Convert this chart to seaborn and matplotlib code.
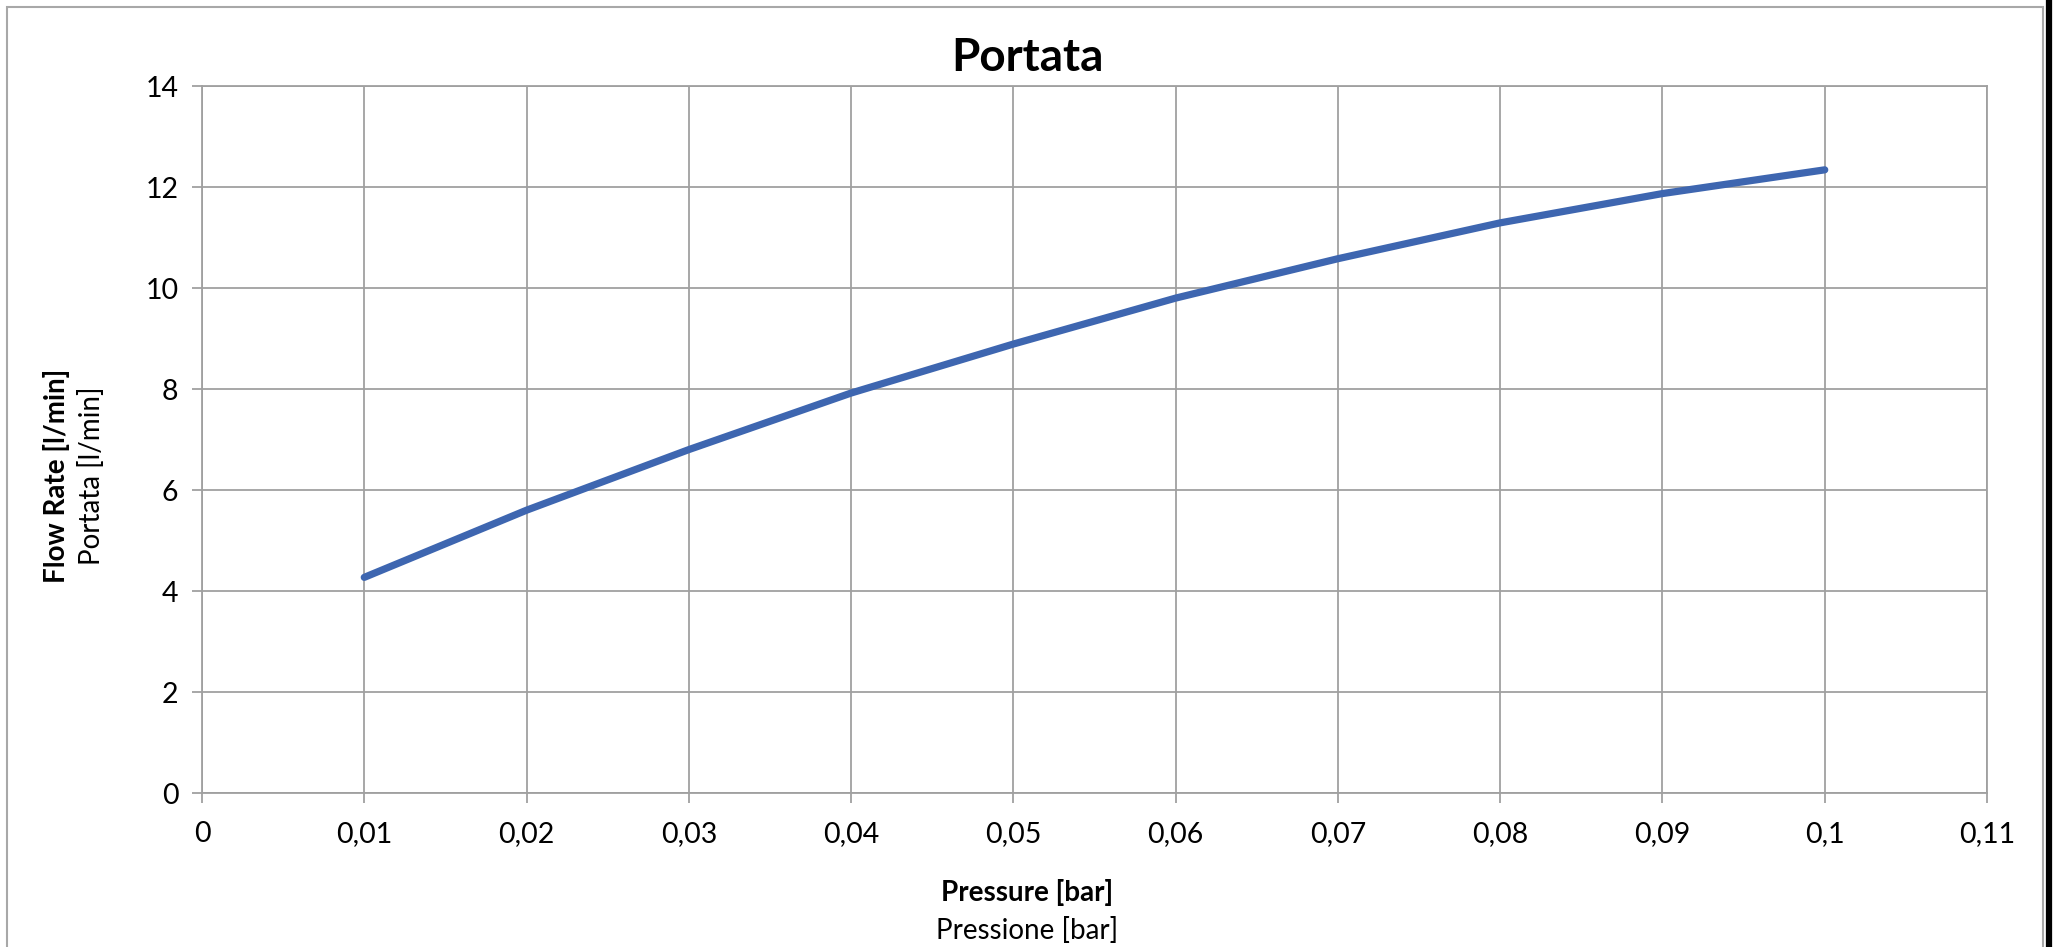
import matplotlib
matplotlib.use("Agg")
import pandas as pd
import seaborn as sns
import matplotlib.pyplot as plt
from matplotlib.ticker import FixedLocator, FuncFormatter
from matplotlib.patches import Rectangle
from matplotlib.lines import Line2D

# data
pressure = [0.01, 0.02, 0.03, 0.04, 0.05, 0.06, 0.07, 0.08, 0.09, 0.10]
flow_rate = [4.27, 5.60, 6.80, 7.92, 8.89, 9.80, 10.58, 11.29, 11.87, 12.34]
x_ticks = [0, 0.01, 0.02, 0.03, 0.04, 0.05, 0.06, 0.07, 0.08, 0.09, 0.10, 0.11]
y_ticks = [0, 2, 4, 6, 8, 10, 12, 14]

title = "Portata"
x_label_en = "Pressure [bar]"
x_label_it = "Pressione [bar]"
y_label_en = "Flow Rate [l/min]"
y_label_it = "Portata [l/min]"

sns.set_style("white")
plt.rcParams["font.family"] = ["Lato", "DejaVu Sans"]
plt.rcParams["text.color"] = "black"

df = pd.DataFrame({"pressure": pressure, "flow": flow_rate})

W, H = 2054, 947
fig = plt.figure(figsize=(W / 100, H / 100), dpi=100)
ax = fig.add_axes([202 / W, 1 - 793 / H, (1987 - 202) / W, (793 - 86) / H])

grid_col = "#a0a0a0"
line_col = "#3e66b0"

sns.lineplot(data=df, x="pressure", y="flow", ax=ax, color=line_col,
             linewidth=5.2, solid_capstyle="round", solid_joinstyle="round", zorder=3)

ax.set_xlim(x_ticks[0], x_ticks[-1])
ax.set_ylim(y_ticks[0], y_ticks[-1])
ax.xaxis.set_major_locator(FixedLocator(x_ticks))
ax.yaxis.set_major_locator(FixedLocator(y_ticks))
ax.xaxis.set_major_formatter(FuncFormatter(lambda v, p: f"{round(v, 4):g}".replace(".", ",")))
ax.yaxis.set_major_formatter(FuncFormatter(lambda v, p: f"{v:g}"))

ax.grid(True, color=grid_col, linewidth=1.3)
for s in ax.spines.values():
    s.set_color(grid_col)
    s.set_linewidth(1.3)
ax.tick_params(axis="both", which="major", length=7, width=1.3, color=grid_col,
               labelsize=20.5, labelcolor="black", direction="out")
ax.tick_params(axis="x", pad=13, bottom=True)
ax.tick_params(axis="y", pad=10, left=True)
ax.set_xlabel("")
ax.set_ylabel("")

# title and two-line axis labels
fig.text(0.5, 1 - 58 / H, title, ha="center", va="center", fontsize=33,
         fontweight="bold", color="black")
fig.text(0.5, 1 - 892 / H, x_label_en, ha="center", va="center", fontsize=20,
         fontweight="bold", color="black")
fig.text(0.5, 1 - 930 / H, x_label_it, ha="center", va="center", fontsize=20, color="black")
fig.text(56 / W, 1 - 476 / H, y_label_en, ha="center", va="center", rotation=90,
         fontsize=20, fontweight="bold", color="black")
fig.text(91 / W, 1 - 476 / H, y_label_it, ha="center", va="center", rotation=90,
         fontsize=20, color="black")

# chart area frame
fig.patches.append(Rectangle((7 / W, -0.01), (2043 - 7) / W, 1.01 - 7 / H,
                             transform=fig.transFigure, fill=False,
                             edgecolor="#a8a8a8", linewidth=1.5))
fig.lines.append(Line2D([2049 / W, 2049 / W], [0, 1], transform=fig.transFigure,
                        color="black", linewidth=4.5))

fig.savefig("out.png", dpi=100, facecolor="white")
